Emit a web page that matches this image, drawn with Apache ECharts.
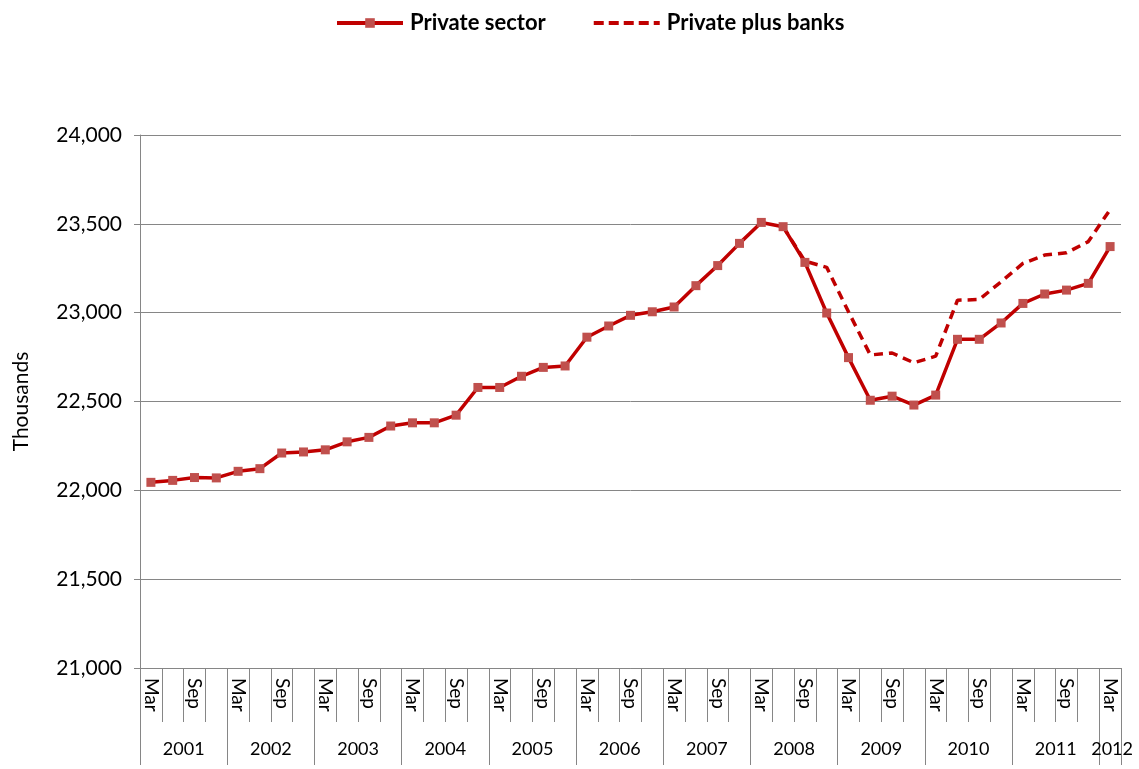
<!DOCTYPE html>
<html>
<head>
<meta charset="utf-8">
<script src="https://cdn.jsdelivr.net/npm/echarts@6/dist/echarts.min.js"></script>
<style>
html,body{margin:0;padding:0;background:#fff;}
#chart{width:1139px;height:769px;}
</style>
</head>
<body>
<div id="chart"></div>
<script>
const years = ['2001','2002','2003','2004','2005','2006','2007','2008','2009','2010','2011','2012'];
const quarters = ['Mar','Jun','Sep','Dec'];
const yTicks = [21000, 21500, 22000, 22500, 23000, 23500, 24000];

const privateSector = [
  22045, 22056, 22072, 22070,
  22107, 22122, 22210, 22216,
  22228, 22273, 22298, 22362,
  22380, 22380, 22423, 22579,
  22579, 22642, 22692, 22700,
  22862, 22925, 22985, 23005,
  23032, 23152, 23265, 23390,
  23508, 23484, 23283, 22998,
  22747, 22507, 22530, 22480,
  22536, 22850, 22850, 22942,
  23052, 23105, 23127, 23165,
  23372
];
const privatePlusBanks = [
  '-', '-', '-', '-',
  '-', '-', '-', '-',
  '-', '-', '-', '-',
  '-', '-', '-', '-',
  '-', '-', '-', '-',
  '-', '-', '-', '-',
  '-', '-', '-', '-',
  '-', 23484, 23290, 23255,
  23005, 22762, 22773, 22718,
  22755, 23070, 23074, 23174,
  23277, 23324, 23337, 23400,
  23580
];

// categories: quarter + year
const categories = [];
years.forEach(function (y) {
  quarters.forEach(function (q) {
    if (categories.length < privateSector.length) categories.push(q + ' ' + y);
  });
});

const FONT = 'Lato';
const GRAY = '#868686';
const RED = '#C00000';

const chart = echarts.init(document.getElementById('chart'));
chart.setOption({
  animation: false,
  backgroundColor: '#ffffff',
  textStyle: { fontFamily: FONT, color: '#000' },
  legend: {
    top: 7,
    left: 330,
    itemWidth: 66,
    itemHeight: 12,
    itemGap: 46,
    textStyle: { fontFamily: FONT, fontSize: 22, fontWeight: 'bold', color: '#000', padding: [0, 0, 0, 2] },
    data: [
      { name: 'Private sector', lineStyle: { width: 4 } },
      { name: 'Private plus banks', lineStyle: { width: 4, type: [10, 5] }, itemStyle: { opacity: 0 } }
    ]
  },
  grid: { left: 140, right: 18, top: 135, bottom: 101, containLabel: false },
  xAxis: [
    {
      type: 'category',
      position: 'bottom',
      data: categories,
      boundaryGap: true,
      axisLine: { show: true, lineStyle: { color: GRAY, width: 1 } },
      axisTick: { show: true, interval: 0, length: 54, lineStyle: { color: GRAY, width: 1 } },
      axisLabel: {
        interval: 1,
        rotate: -90,
        margin: 10,
        fontFamily: FONT,
        fontSize: 19,
        color: '#000',
        padding: [0, 0, 4, 0],
        formatter: function (v) { return v.split(' ')[0]; }
      },
      splitLine: { show: false }
    },
    {
      type: 'category',
      position: 'bottom',
      data: categories,
      boundaryGap: true,
      axisLine: { show: false },
      axisTick: {
        show: true,
        interval: function (i) { return i % 4 === 0; },
        length: 97,
        lineStyle: { color: GRAY, width: 1 }
      },
      axisLabel: {
        interval: function (i) { return i % 4 === 1 || i === categories.length - 1; },
        margin: 72,
        fontFamily: FONT,
        fontSize: 18,
        color: '#000',
        formatter: function (v, i) {
          const yr = v.split(' ')[1];
          return i === categories.length - 1 ? '{b|' + yr + '}' : '{a|' + yr + '}';
        },
        rich: {
          a: { padding: [0, 0, 0, 22], fontFamily: FONT, fontSize: 18, color: '#000' },
          b: { padding: [0, 0, 0, 4], fontFamily: FONT, fontSize: 18, color: '#000' }
        }
      },
      splitLine: { show: false }
    }
  ],
  yAxis: {
    type: 'value',
    min: yTicks[0],
    max: yTicks[yTicks.length - 1],
    interval: yTicks[1] - yTicks[0],
    name: 'Thousands',
    nameLocation: 'middle',
    nameGap: 108,
    nameRotate: 90,
    nameTextStyle: { fontFamily: FONT, fontSize: 21, color: '#000' },
    axisLine: { show: true, lineStyle: { color: GRAY, width: 1 } },
    axisTick: { show: true, length: 6, lineStyle: { color: GRAY } },
    axisLabel: {
      margin: 18,
      fontFamily: FONT,
      fontSize: 21,
      color: '#000',
      formatter: function (v) { return v.toLocaleString('en-US'); }
    },
    splitLine: { show: true, lineStyle: { color: GRAY, width: 1 } }
  },
  series: [
    {
      name: 'Private plus banks',
      type: 'line',
      xAxisIndex: 0,
      data: privatePlusBanks,
      symbol: 'none',
      z: 2,
      lineStyle: { color: RED, width: 3.5, type: [9, 6] },
      itemStyle: { color: RED }
    },
    {
      name: 'Private sector',
      type: 'line',
      xAxisIndex: 0,
      data: privateSector,
      symbol: 'rect',
      symbolSize: 9,
      z: 3,
      lineStyle: { color: RED, width: 3.5 },
      itemStyle: { color: '#C0504D', borderWidth: 0 }
    }
  ]
});
</script>
</body>
</html>
